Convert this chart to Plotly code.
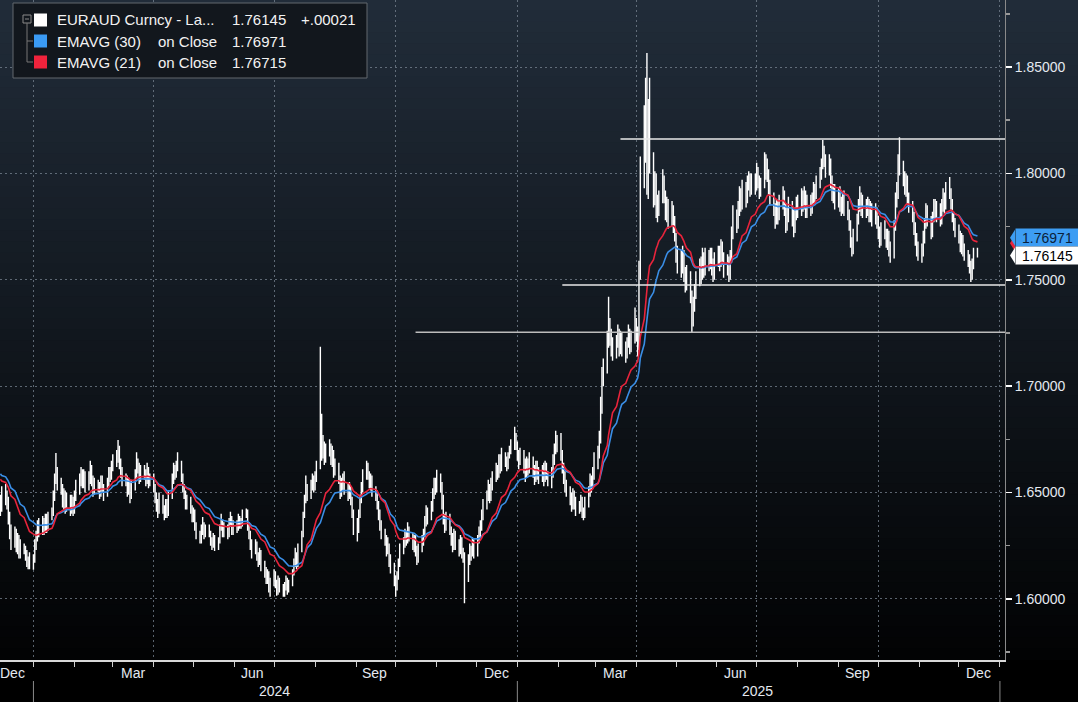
import plotly.graph_objects as go
import pandas as pd

# ---------------- data ----------------
START_DATE = "2023-12-07"
OPEN0 = 1.6420

close = [
    1.6440, 1.6470,
    1.6480, 1.6450, 1.6380, 1.6320, 1.6270,
    1.6300, 1.6250, 1.6280, 1.6220, 1.6240,
    1.6230, 1.6200, 1.6170, 1.6150, 1.6190,
    1.6180, 1.6250, 1.6290, 1.6330, 1.6320,
    1.6360, 1.6330, 1.6380, 1.6340, 1.6390,
    1.6400, 1.6480, 1.6560, 1.6600, 1.6540,
    1.6520, 1.6460, 1.6490, 1.6430, 1.6470,
    1.6420, 1.6460, 1.6410, 1.6480, 1.6510,
    1.6560, 1.6600, 1.6540, 1.6580, 1.6530,
    1.6570, 1.6620, 1.6560, 1.6510, 1.6540,
    1.6530, 1.6500, 1.6560, 1.6520, 1.6490,
    1.6550, 1.6600, 1.6580, 1.6620, 1.6650,
    1.6660, 1.6700, 1.6640, 1.6600, 1.6560,
    1.6560, 1.6510, 1.6540, 1.6480, 1.6530,
    1.6590, 1.6640, 1.6620, 1.6570, 1.6600,
    1.6590, 1.6560, 1.6610, 1.6540, 1.6570,
    1.6520, 1.6480, 1.6440, 1.6420, 1.6470,
    1.6420, 1.6390, 1.6450, 1.6400, 1.6480,
    1.6560, 1.6610, 1.6580, 1.6620, 1.6640,
    1.6570, 1.6520, 1.6490, 1.6440, 1.6470,
    1.6420, 1.6380, 1.6400, 1.6340, 1.6300,
    1.6280, 1.6320, 1.6350, 1.6300, 1.6330,
    1.6310, 1.6270, 1.6250, 1.6290, 1.6240,
    1.6270, 1.6330, 1.6360, 1.6310, 1.6340,
    1.6300, 1.6360, 1.6380, 1.6320, 1.6350,
    1.6330, 1.6380, 1.6350, 1.6360, 1.6400,
    1.6410, 1.6340, 1.6300, 1.6260, 1.6230,
    1.6250, 1.6200, 1.6180, 1.6220, 1.6160,
    1.6130, 1.6090, 1.6120, 1.6060, 1.6080,
    1.6110, 1.6070, 1.6030, 1.6090, 1.6050,
    1.6020, 1.6060, 1.6090, 1.6040, 1.6070,
    1.6120, 1.6170, 1.6200, 1.6160, 1.6230,
    1.6300, 1.6390, 1.6460, 1.6520, 1.6480,
    1.6530, 1.6560, 1.6520, 1.6570, 1.6620,
    1.6750, 1.6680, 1.6720, 1.6660, 1.6700,
    1.6710, 1.6650, 1.6690, 1.6600, 1.6630,
    1.6560, 1.6500, 1.6540, 1.6580, 1.6520,
    1.6490, 1.6520, 1.6460, 1.6400, 1.6360,
    1.6330, 1.6400, 1.6470, 1.6520, 1.6580,
    1.6620, 1.6580, 1.6540, 1.6560, 1.6500,
    1.6490, 1.6440, 1.6400, 1.6350, 1.6310,
    1.6280, 1.6230, 1.6250, 1.6180, 1.6150,
    1.6090, 1.6050, 1.6100, 1.6170, 1.6230,
    1.6260, 1.6300, 1.6280, 1.6330, 1.6290,
    1.6250, 1.6280, 1.6220, 1.6190, 1.6240,
    1.6270, 1.6310, 1.6360, 1.6410, 1.6380,
    1.6430, 1.6490, 1.6540, 1.6510, 1.6560,
    1.6520, 1.6450, 1.6380, 1.6340, 1.6380,
    1.6320, 1.6280, 1.6250, 1.6300, 1.6260,
    1.6230, 1.6270, 1.6210, 1.6200, 1.6090,
    1.6180, 1.6230, 1.6210, 1.6260, 1.6220,
    1.6280, 1.6310, 1.6340, 1.6390, 1.6440,
    1.6480, 1.6520, 1.6470, 1.6540, 1.6570,
    1.6610, 1.6590, 1.6640, 1.6620, 1.6670,
    1.6650, 1.6620, 1.6680, 1.6700, 1.6720,
    1.6760, 1.6720, 1.6680, 1.6650, 1.6690,
    1.6620, 1.6580, 1.6640, 1.6610, 1.6650,
    1.6600, 1.6560, 1.6620, 1.6590, 1.6570,
    1.6600, 1.6560, 1.6620, 1.6580, 1.6540,
    1.6590, 1.6650, 1.6700, 1.6740, 1.6720,
    1.6680, 1.6620, 1.6570, 1.6530, 1.6510,
    1.6470, 1.6440, 1.6490, 1.6450, 1.6420,
    1.6430, 1.6460, 1.6410, 1.6390, 1.6450,
    1.6500, 1.6560, 1.6530, 1.6590, 1.6640,
    1.6680, 1.6750, 1.6900, 1.7030, 1.7080,
    1.7200, 1.7280, 1.7230, 1.7180, 1.7160,
    1.7200, 1.7250, 1.7170, 1.7230, 1.7180,
    1.7150, 1.7200, 1.7250, 1.7180, 1.7220,
    1.7270, 1.7250, 1.7180, 1.7550, 1.8010,
    1.8150, 1.8280, 1.7950, 1.8120, 1.8070,
    1.7900, 1.7940, 1.7850, 1.7820, 1.7880,
    1.7960, 1.7890, 1.7810, 1.7850, 1.7780,
    1.7820, 1.7760, 1.7710, 1.7610, 1.7580,
    1.7550, 1.7600, 1.7520, 1.7480, 1.7520,
    1.7430, 1.7300, 1.7380, 1.7440, 1.7500,
    1.7560, 1.7520, 1.7600, 1.7550, 1.7610,
    1.7580, 1.7620, 1.7560, 1.7530, 1.7590,
    1.7620, 1.7580, 1.7640, 1.7600, 1.7550,
    1.7580, 1.7530, 1.7600, 1.7720, 1.7800,
    1.7760, 1.7840, 1.7900, 1.7860, 1.7930,
    1.7880, 1.7950, 1.7980, 1.7920, 1.7970,
    1.7940, 1.8010, 1.7960, 1.7910, 1.7950,
    1.7990, 1.8060, 1.8000, 1.7940, 1.7880,
    1.7830, 1.7780, 1.7850, 1.7800, 1.7860,
    1.7900, 1.7830, 1.7760, 1.7800, 1.7850,
    1.7790, 1.7740, 1.7810, 1.7860, 1.7830,
    1.7890, 1.7850, 1.7900, 1.7820, 1.7870,
    1.7840, 1.7880, 1.7930, 1.7900, 1.7960,
    1.8000, 1.8040, 1.8100, 1.8060, 1.8020,
    1.8050, 1.7960, 1.7900, 1.7920, 1.7870,
    1.7900, 1.7860, 1.7830, 1.7880, 1.7840,
    1.7810, 1.7760, 1.7680, 1.7640, 1.7700,
    1.7780, 1.7850, 1.7890, 1.7830, 1.7870,
    1.7820, 1.7860, 1.7800, 1.7840, 1.7790,
    1.7830, 1.7770, 1.7720, 1.7680, 1.7740,
    1.7720, 1.7680, 1.7700, 1.7650, 1.7620,
    1.7750, 1.7880, 1.7920, 1.8020, 1.8050,
    1.7980, 1.7930, 1.7960, 1.7880, 1.7850,
    1.7800, 1.7740, 1.7690, 1.7650, 1.7620,
    1.7630, 1.7700, 1.7760, 1.7820, 1.7780,
    1.7730, 1.7790, 1.7850, 1.7800, 1.7840,
    1.7780, 1.7850, 1.7890, 1.7850, 1.7920,
    1.7900, 1.7860, 1.7800, 1.7760, 1.7730,
    1.7700, 1.7660, 1.7680, 1.7640, 1.7620,
    1.7590, 1.7560, 1.7520, 1.7580, 1.7612,
    1.76145,
]

high = [
    1.6490, 1.6530,
    1.6540, 1.6510, 1.6480, 1.6410, 1.6350,
    1.6340, 1.6330, 1.6310, 1.6300, 1.6280,
    1.6260, 1.6250, 1.6230, 1.6200, 1.6220,
    1.6210, 1.6280, 1.6320, 1.6370, 1.6380,
    1.6390, 1.6380, 1.6400, 1.6400, 1.6410,
    1.6430, 1.6510, 1.6590, 1.6686, 1.6620,
    1.6570, 1.6540, 1.6520, 1.6510, 1.6500,
    1.6490, 1.6490, 1.6480, 1.6510, 1.6560,
    1.6590, 1.6620, 1.6610, 1.6610, 1.6600,
    1.6600, 1.6650, 1.6630, 1.6580, 1.6570,
    1.6560, 1.6550, 1.6580, 1.6580, 1.6540,
    1.6570, 1.6620, 1.6620, 1.6650, 1.6680,
    1.6700, 1.6747, 1.6720, 1.6660, 1.6620,
    1.6590, 1.6580, 1.6570, 1.6560, 1.6560,
    1.6610, 1.6690, 1.6660, 1.6640, 1.6630,
    1.6630, 1.6610, 1.6640, 1.6620, 1.6590,
    1.6590, 1.6540, 1.6500, 1.6470, 1.6500,
    1.6490, 1.6440, 1.6470, 1.6470, 1.6510,
    1.6590, 1.6640, 1.6630, 1.6650, 1.6690,
    1.6650, 1.6590, 1.6540, 1.6510, 1.6490,
    1.6480, 1.6440, 1.6430, 1.6420, 1.6360,
    1.6320, 1.6350, 1.6385, 1.6360, 1.6350,
    1.6350, 1.6320, 1.6290, 1.6310, 1.6300,
    1.6290, 1.6350, 1.6400, 1.6370, 1.6360,
    1.6350, 1.6380, 1.6410, 1.6390, 1.6370,
    1.6370, 1.6400, 1.6390, 1.6380, 1.6420,
    1.6425, 1.6420, 1.6360, 1.6320, 1.6280,
    1.6280, 1.6270, 1.6220, 1.6240, 1.6230,
    1.6180, 1.6150, 1.6140, 1.6130, 1.6100,
    1.6140, 1.6130, 1.6090, 1.6110, 1.6100,
    1.6070, 1.6080, 1.6110, 1.6100, 1.6090,
    1.6140, 1.6190, 1.6240, 1.6220, 1.6260,
    1.6320, 1.6410, 1.6490, 1.6580, 1.6540,
    1.6560, 1.6590, 1.6580, 1.6600, 1.6650,
    1.7185, 1.6870, 1.6770, 1.6740, 1.6730,
    1.6750, 1.6730, 1.6720, 1.6700, 1.6660,
    1.6640, 1.6580, 1.6570, 1.6590, 1.6600,
    1.6540, 1.6550, 1.6530, 1.6480, 1.6420,
    1.6380, 1.6420, 1.6490, 1.6550, 1.6610,
    1.6650, 1.6640, 1.6600, 1.6590, 1.6580,
    1.6530, 1.6510, 1.6460, 1.6420, 1.6370,
    1.6330, 1.6300, 1.6290, 1.6260, 1.6210,
    1.6170, 1.6110, 1.6130, 1.6190, 1.6260,
    1.6290, 1.6330, 1.6320, 1.6360, 1.6340,
    1.6310, 1.6300, 1.6300, 1.6250, 1.6260,
    1.6300, 1.6330, 1.6390, 1.6440, 1.6430,
    1.6460, 1.6520, 1.6570, 1.6570, 1.6607,
    1.6590, 1.6550, 1.6490, 1.6400, 1.6410,
    1.6400, 1.6340, 1.6310, 1.6330, 1.6320,
    1.6280, 1.6300, 1.6290, 1.6240, 1.6220,
    1.6210, 1.6260, 1.6250, 1.6290, 1.6280,
    1.6300, 1.6340, 1.6370, 1.6420, 1.6470,
    1.6510, 1.6560, 1.6540, 1.6570, 1.6600,
    1.6640, 1.6630, 1.6680, 1.6680, 1.6710,
    1.6690, 1.6670, 1.6690, 1.6720, 1.6750,
    1.6809, 1.6780, 1.6740, 1.6700, 1.6710,
    1.6700, 1.6660, 1.6670, 1.6660, 1.6690,
    1.6670, 1.6630, 1.6650, 1.6650, 1.6620,
    1.6630, 1.6640, 1.6650, 1.6640, 1.6600,
    1.6620, 1.6680, 1.6730, 1.6790, 1.6770,
    1.6780, 1.6700, 1.6640, 1.6600, 1.6560,
    1.6530, 1.6500, 1.6520, 1.6510, 1.6480,
    1.6460, 1.6490, 1.6480, 1.6430, 1.6480,
    1.6530, 1.6590, 1.6580, 1.6620, 1.6690,
    1.6720, 1.6790, 1.6950, 1.7090, 1.7130,
    1.7260, 1.7420, 1.7320, 1.7270, 1.7230,
    1.7240, 1.7290, 1.7270, 1.7260, 1.7250,
    1.7210, 1.7230, 1.7290, 1.7270, 1.7260,
    1.7370, 1.7320, 1.7280, 1.7590, 1.8080,
    1.8320, 1.8450, 1.8566, 1.8350, 1.8450,
    1.8100, 1.8010, 1.8000, 1.7900, 1.7920,
    1.8020, 1.7990, 1.7920, 1.7890, 1.7880,
    1.7870, 1.7850, 1.7800, 1.7720, 1.7660,
    1.7640, 1.7660, 1.7640, 1.7560, 1.7570,
    1.7540, 1.7450, 1.7420, 1.7480, 1.7540,
    1.7600, 1.7610, 1.7650, 1.7630, 1.7650,
    1.7640, 1.7650, 1.7650, 1.7600, 1.7630,
    1.7660, 1.7660, 1.7690, 1.7680, 1.7630,
    1.7620, 1.7610, 1.7640, 1.7750, 1.7850,
    1.7830, 1.7870, 1.7940, 1.7930, 1.7970,
    1.7960, 1.7990, 1.8010, 1.8000, 1.8000,
    1.8000, 1.8050, 1.8030, 1.7990, 1.7980,
    1.8100, 1.8090, 1.8070, 1.8020, 1.7970,
    1.7910, 1.7860, 1.7880, 1.7870, 1.7900,
    1.7940, 1.7920, 1.7860, 1.7840, 1.7890,
    1.7870, 1.7830, 1.7840, 1.7890, 1.7900,
    1.7930, 1.7920, 1.7940, 1.7920, 1.7900,
    1.7900, 1.7910, 1.7960, 1.7950, 1.7990,
    1.8030, 1.8070, 1.8157, 1.8130, 1.8090,
    1.8090, 1.8070, 1.7990, 1.7950, 1.7950,
    1.7930, 1.7940, 1.7890, 1.7910, 1.7920,
    1.7870, 1.7830, 1.7780, 1.7700, 1.7740,
    1.7810, 1.7880, 1.7940, 1.7910, 1.7900,
    1.7880, 1.7890, 1.7880, 1.7870, 1.7860,
    1.7860, 1.7840, 1.7800, 1.7750, 1.7770,
    1.7780, 1.7740, 1.7740, 1.7730, 1.7680,
    1.7780, 1.7910, 1.7960, 1.8090, 1.8170,
    1.8060, 1.8010, 1.8000, 1.7990, 1.7910,
    1.7870, 1.7820, 1.7770, 1.7720, 1.7680,
    1.7670, 1.7730, 1.7790, 1.7860, 1.7850,
    1.7800, 1.7820, 1.7880, 1.7880, 1.7870,
    1.7860, 1.7880, 1.7930, 1.7910, 1.7960,
    1.7983, 1.7930, 1.7880, 1.7820, 1.7790,
    1.7760, 1.7730, 1.7720, 1.7710, 1.7670,
    1.7640, 1.7620, 1.7590, 1.7600, 1.7650,
    1.7650,
]

low = [
    1.6390, 1.6410,
    1.6440, 1.6420, 1.6350, 1.6280, 1.6230,
    1.6240, 1.6220, 1.6210, 1.6190, 1.6190,
    1.6210, 1.6180, 1.6150, 1.6140, 1.6140,
    1.6137, 1.6170, 1.6230, 1.6270, 1.6290,
    1.6300, 1.6300, 1.6310, 1.6310, 1.6320,
    1.6370, 1.6390, 1.6460, 1.6540, 1.6510,
    1.6490, 1.6430, 1.6420, 1.6400, 1.6410,
    1.6390, 1.6400, 1.6390, 1.6400, 1.6460,
    1.6490, 1.6530, 1.6520, 1.6520, 1.6500,
    1.6510, 1.6540, 1.6530, 1.6480, 1.6490,
    1.6500, 1.6470, 1.6480, 1.6500, 1.6460,
    1.6480, 1.6530, 1.6550, 1.6560, 1.6600,
    1.6620, 1.6640, 1.6610, 1.6570, 1.6530,
    1.6530, 1.6480, 1.6490, 1.6450, 1.6470,
    1.6510, 1.6570, 1.6590, 1.6540, 1.6550,
    1.6560, 1.6530, 1.6540, 1.6520, 1.6530,
    1.6500, 1.6450, 1.6410, 1.6380, 1.6400,
    1.6400, 1.6370, 1.6380, 1.6380, 1.6390,
    1.6470, 1.6540, 1.6560, 1.6570, 1.6600,
    1.6550, 1.6500, 1.6470, 1.6420, 1.6420,
    1.6400, 1.6360, 1.6360, 1.6320, 1.6280,
    1.6260, 1.6260, 1.6300, 1.6280, 1.6290,
    1.6290, 1.6250, 1.6230, 1.6240, 1.6225,
    1.6230, 1.6260, 1.6320, 1.6290, 1.6290,
    1.6280, 1.6290, 1.6340, 1.6300, 1.6300,
    1.6310, 1.6320, 1.6330, 1.6330, 1.6340,
    1.6380, 1.6320, 1.6280, 1.6230, 1.6190,
    1.6210, 1.6180, 1.6150, 1.6160, 1.6130,
    1.6100, 1.6070, 1.6070, 1.6030, 1.6010,
    1.6060, 1.6050, 1.6015, 1.6020, 1.6030,
    1.6010, 1.6010, 1.6040, 1.6020, 1.6030,
    1.6060, 1.6110, 1.6150, 1.6140, 1.6150,
    1.6220, 1.6290, 1.6380, 1.6450, 1.6460,
    1.6470, 1.6510, 1.6500, 1.6510, 1.6550,
    1.6610, 1.6650, 1.6660, 1.6630, 1.6640,
    1.6670, 1.6630, 1.6620, 1.6570, 1.6580,
    1.6540, 1.6470, 1.6480, 1.6510, 1.6490,
    1.6460, 1.6470, 1.6440, 1.6380, 1.6300,
    1.6270, 1.6310, 1.6380, 1.6450, 1.6500,
    1.6560, 1.6560, 1.6520, 1.6510, 1.6480,
    1.6460, 1.6420, 1.6370, 1.6320, 1.6280,
    1.6250, 1.6200, 1.6210, 1.6150, 1.6120,
    1.6060, 1.6010, 1.6040, 1.6090, 1.6150,
    1.6210, 1.6240, 1.6250, 1.6260, 1.6270,
    1.6230, 1.6220, 1.6200, 1.6160, 1.6170,
    1.6220, 1.6250, 1.6290, 1.6340, 1.6350,
    1.6370, 1.6410, 1.6470, 1.6490, 1.6500,
    1.6500, 1.6420, 1.6350, 1.6310, 1.6320,
    1.6300, 1.6250, 1.6220, 1.6230, 1.6230,
    1.6200, 1.6210, 1.6190, 1.6170, 1.5980,
    1.6080, 1.6160, 1.6180, 1.6200, 1.6190,
    1.6200, 1.6260, 1.6290, 1.6320, 1.6370,
    1.6420, 1.6460, 1.6450, 1.6460, 1.6510,
    1.6550, 1.6560, 1.6570, 1.6590, 1.6600,
    1.6620, 1.6600, 1.6610, 1.6660, 1.6680,
    1.6700, 1.6700, 1.6650, 1.6610, 1.6630,
    1.6590, 1.6550, 1.6570, 1.6580, 1.6590,
    1.6570, 1.6535, 1.6550, 1.6560, 1.6540,
    1.6550, 1.6530, 1.6550, 1.6560, 1.6530,
    1.6520, 1.6570, 1.6630, 1.6680, 1.6690,
    1.6650, 1.6590, 1.6540, 1.6500, 1.6480,
    1.6440, 1.6410, 1.6420, 1.6420, 1.6390,
    1.6400, 1.6410, 1.6380, 1.6370, 1.6380,
    1.6430, 1.6480, 1.6500, 1.6520, 1.6560,
    1.6610, 1.6660, 1.6730, 1.6870, 1.7000,
    1.7060, 1.7180, 1.7190, 1.7140, 1.7120,
    1.7130, 1.7180, 1.7140, 1.7150, 1.7140,
    1.7110, 1.7130, 1.7180, 1.7150, 1.7160,
    1.7200, 1.7210, 1.7140, 1.7170, 1.7500,
    1.7930, 1.8050, 1.7900, 1.7880, 1.8000,
    1.7840, 1.7850, 1.7790, 1.7770, 1.7800,
    1.7860, 1.7860, 1.7780, 1.7770, 1.7740,
    1.7750, 1.7720, 1.7680, 1.7580, 1.7530,
    1.7510, 1.7530, 1.7490, 1.7440, 1.7450,
    1.7390, 1.7250, 1.7280, 1.7350, 1.7410,
    1.7470, 1.7480, 1.7500, 1.7510, 1.7520,
    1.7540, 1.7550, 1.7520, 1.7490, 1.7500,
    1.7560, 1.7540, 1.7560, 1.7570, 1.7510,
    1.7520, 1.7490, 1.7500, 1.7580, 1.7690,
    1.7720, 1.7740, 1.7800, 1.7820, 1.7830,
    1.7840, 1.7860, 1.7920, 1.7890, 1.7900,
    1.7900, 1.7920, 1.7930, 1.7880, 1.7890,
    1.7930, 1.7970, 1.7960, 1.7900, 1.7850,
    1.7800, 1.7740, 1.7760, 1.7760, 1.7780,
    1.7830, 1.7800, 1.7720, 1.7730, 1.7770,
    1.7750, 1.7700, 1.7720, 1.7780, 1.7790,
    1.7800, 1.7820, 1.7830, 1.7790, 1.7790,
    1.7800, 1.7810, 1.7850, 1.7860, 1.7880,
    1.7930, 1.7970, 1.8020, 1.8030, 1.7980,
    1.7990, 1.7930, 1.7870, 1.7860, 1.7830,
    1.7840, 1.7820, 1.7800, 1.7810, 1.7800,
    1.7780, 1.7730, 1.7650, 1.7610, 1.7620,
    1.7680, 1.7760, 1.7820, 1.7800, 1.7790,
    1.7790, 1.7800, 1.7770, 1.7770, 1.7750,
    1.7760, 1.7740, 1.7690, 1.7650, 1.7660,
    1.7690, 1.7650, 1.7640, 1.7610, 1.7580,
    1.7600, 1.7730, 1.7840, 1.7880, 1.7990,
    1.7940, 1.7900, 1.7890, 1.7850, 1.7815,
    1.7770, 1.7710, 1.7660, 1.7610, 1.7590,
    1.7580, 1.7610, 1.7670, 1.7740, 1.7750,
    1.7690, 1.7700, 1.7770, 1.7780, 1.7770,
    1.7750, 1.7760, 1.7820, 1.7810, 1.7830,
    1.7880, 1.7830, 1.7770, 1.7730, 1.7700,
    1.7670, 1.7630, 1.7620, 1.7610, 1.7590,
    1.7560, 1.7530, 1.7490, 1.7500, 1.7550,
    1.7605,
]

# EMA levels at the first visible bar
EMA21_START = 1.6575
EMA30_START = 1.6598

# drawn horizontal levels: (price, start date)
h_levels = [1.8162, 1.7475, 1.7253]
h_starts = ["2025-03-20", "2025-02-04", "2024-10-16"]
h_colors = ["#e8e8e8", "#e8e8e8", "#bdbdbd"]

# axis / labels
y_ticks = [1.60, 1.65, 1.70, 1.75, 1.80, 1.85]
month_label_dates = ["2023-12-16", "2024-03-16", "2024-06-15", "2024-09-15", "2024-12-16",
                     "2025-03-16", "2025-06-15", "2025-09-15", "2025-12-16"]
month_labels = ["Dec", "Mar", "Jun", "Sep", "Dec", "Mar", "Jun", "Sep", "Dec"]
year_label_dates = ["2024-07-01", "2025-07-02"]
year_labels = ["2024", "2025"]
year_bounds = ["2024-01-01", "2025-01-01", "2026-01-01"]
quarter_starts = ["2024-01-01", "2024-04-01", "2024-07-01", "2024-10-01", "2025-01-01",
                  "2025-04-01", "2025-07-01", "2025-10-01", "2026-01-01"]
X_RANGE = ["2023-12-06 17:00", "2026-01-04 20:00"]
Y_RANGE = [1.5713, 1.8815]

LAST_PX = "1.76145"
LAST_CHG = "+.00021"
EMA30_LAST = "1.76971"
EMA21_LAST = "1.76715"

# ---------------- derived ----------------
dates = pd.bdate_range(START_DATE, periods=len(close))
opens = [OPEN0] + close[:-1]


def ema(values, n, seed):
    a = 2.0 / (n + 1)
    e = seed
    out = []
    for v in values:
        e = e + a * (v - e)
        out.append(e)
    return out


ema21 = ema(close, 21, EMA21_START)
ema30 = ema(close, 30, EMA30_START)

W, H = 1078, 702
ML, MR, MT, MB = 0, 73, 0, 42
PW, PH = W - ML - MR, H - MT - MB
UPP = (Y_RANGE[1] - Y_RANGE[0]) / PH  # price units per pixel


def px(x):
    return x / PW


def py(y):
    return 1 - y / PH


fig = go.Figure()

fig.add_trace(go.Ohlc(
    x=dates, open=opens, high=high, low=low, close=close,
    increasing=dict(line=dict(color="#ffffff", width=1.4)),
    decreasing=dict(line=dict(color="#ffffff", width=1.4)),
    tickwidth=0.3, hoverinfo="skip", showlegend=False,
))
fig.add_trace(go.Scatter(x=dates, y=ema30, mode="lines",
                         line=dict(color="#3a8ee6", width=1.6),
                         hoverinfo="skip", showlegend=False))
fig.add_trace(go.Scatter(x=dates, y=ema21, mode="lines",
                         line=dict(color="#e8243c", width=1.6),
                         hoverinfo="skip", showlegend=False))

shapes = []
# background gradient (dark slate at top to black at bottom)
N = 60
top = (33, 44, 57)
bot = (2, 3, 4)
for i in range(N):
    t = i / (N - 1)
    c = tuple(int(round(top[k] + (bot[k] - top[k]) * t)) for k in range(3))
    shapes.append(dict(type="rect", xref="paper", yref="paper",
                       x0=0, x1=W / PW + 0.01, y0=1 - (i + 1) / N, y1=1 - i / N + 0.001,
                       fillcolor="rgb(%d,%d,%d)" % c, line=dict(width=0), layer="below"))

for lvl, st, col in zip(h_levels, h_starts, h_colors):
    shapes.append(dict(type="line", xref="x", yref="y", x0=st, x1=X_RANGE[1],
                       y0=lvl, y1=lvl, line=dict(color=col, width=1.5), layer="above"))

for b in year_bounds:
    shapes.append(dict(type="line", xref="x", yref="paper", x0=b, x1=b,
                       y0=py(681), y1=py(702), line=dict(color="#8a8a8a", width=1)))

# legend box
shapes.append(dict(type="rect", xref="paper", yref="paper",
                   x0=px(13), x1=px(367), y0=py(78), y1=py(3),
                   fillcolor="#12171d", line=dict(color="#62686f", width=1), layer="above"))
# tree lines
shapes.append(dict(type="rect", xref="paper", yref="paper", x0=px(23), x1=px(31), y0=py(23), y1=py(15),
                   line=dict(color="#8a8a8a", width=1), fillcolor="#12171d", layer="above"))
shapes.append(dict(type="line", xref="paper", yref="paper", x0=px(25), x1=px(29), y0=py(19), y1=py(19),
                   line=dict(color="#8a8a8a", width=1), layer="above"))
shapes.append(dict(type="line", xref="paper", yref="paper", x0=px(27), x1=px(27), y0=py(23), y1=py(62),
                   line=dict(color="#777777", width=1), layer="above"))
for yy in (41, 62):
    shapes.append(dict(type="line", xref="paper", yref="paper", x0=px(27), x1=px(33), y0=py(yy), y1=py(yy),
                       line=dict(color="#777777", width=1), layer="above"))
# swatches
for yy, col in ((20, "#ffffff"), (41, "#3a9bf5"), (62, "#f0233c")):
    shapes.append(dict(type="rect", xref="paper", yref="paper", x0=px(34), x1=px(47),
                       y0=py(yy + 6.5), y1=py(yy - 6.5), fillcolor=col, line=dict(width=0), layer="above"))

# pointer tips of the last-value labels (red one mostly hidden behind the others)
for val, col in ((float(EMA21_LAST), "#e8243c"), (float(EMA30_LAST), "#3d9df3"), (float(LAST_PX), "#ffffff")):
    x0, x1 = 1 + px(5), 1 + px(10)
    h8 = 8 * UPP
    shapes.append(dict(type="path", xref="paper", yref="y",
                       path="M %f %f L %f %f L %f %f Z" % (x0, val, x1, val + h8, x1, val - h8),
                       fillcolor=col, line=dict(width=0), layer="above"))

annotations = []
FONT = "Liberation Sans, Arial, sans-serif"
leg_rows = [
    (20, "EURAUD Curncy - La...", None, LAST_PX, LAST_CHG),
    (41, "EMAVG (30)", "on Close", EMA30_LAST, None),
    (62, "EMAVG (21)", "on Close", EMA21_LAST, None),
]
for yy, lab, mid, val, chg in leg_rows:
    for xx, txt in ((55, lab), (156, mid), (230, val), (299, chg)):
        if txt is None:
            continue
        annotations.append(dict(xref="paper", yref="paper", x=px(xx), y=py(yy), text=txt,
                                showarrow=False, xanchor="left", yanchor="middle",
                                font=dict(family=FONT, size=15, color="#f2f2f2")))

for d, t in zip(month_label_dates, month_labels):
    annotations.append(dict(xref="x", yref="paper", x=d, y=py(673), text=t, showarrow=False,
                            xanchor="center", yanchor="middle",
                            font=dict(family=FONT, size=14, color="#e4e9f0")))
for d, t in zip(year_label_dates, year_labels):
    annotations.append(dict(xref="x", yref="paper", x=d, y=py(691), text=t, showarrow=False,
                            xanchor="center", yanchor="middle",
                            font=dict(family=FONT, size=14, color="#e4e9f0")))

# last-value labels on the price axis (EMA21 label is hidden behind these in the reference)
for val, txt, bg, fg in ((float(EMA30_LAST), EMA30_LAST, "#3d9df3", "#0b1f3a"),
                         (float(LAST_PX), LAST_PX, "#ffffff", "#000000")):
    annotations.append(dict(xref="paper", yref="y", x=1, xshift=10, y=val, text=txt,
                            showarrow=False, xanchor="left", yanchor="middle",
                            bgcolor=bg, borderpad=0, width=63, height=17, align="center",
                            font=dict(family=FONT, size=14, color=fg)))

grid = dict(color="rgba(120,132,146,0.75)")
fig.update_layout(
    width=W, height=H, margin=dict(l=ML, r=MR, t=MT, b=MB, pad=0),
    paper_bgcolor="#000000", plot_bgcolor="rgba(0,0,0,0)",
    template="none", showlegend=False,
    shapes=shapes, annotations=annotations,
    xaxis=dict(type="date", range=X_RANGE, rangeslider=dict(visible=False),
               tickvals=quarter_starts, showticklabels=False,
               ticks="outside", ticklen=5, tickcolor="#d0d0d0", tickwidth=1,
               showgrid=True, gridcolor=grid["color"], gridwidth=1, griddash="2px,3px",
               minor=dict(dtick="M1", tick0="2024-01-01", ticks="outside", ticklen=5,
                          tickcolor="#d0d0d0", showgrid=False),
               showline=True, linecolor="#d8d8d8", linewidth=1.5, zeroline=False,
               automargin=False, fixedrange=True),
    yaxis=dict(side="right", range=Y_RANGE, tickvals=y_ticks,
               ticktext=["%.5f" % v for v in y_ticks],
               ticks="outside", ticklen=6, tickcolor="#ffffff", tickwidth=1.5,
               tickfont=dict(family=FONT, size=14, color="#e4e9f0"),
               showgrid=True, gridcolor=grid["color"], gridwidth=1, griddash="2px,3px",
               minor=dict(dtick=0.025, tick0=1.575, ticks="outside", ticklen=4,
                          tickcolor="#9a9a9a", showgrid=False),
               showline=True, linecolor="#8a8a8a", linewidth=1, zeroline=False,
               automargin=False, fixedrange=True),
)

fig.write_html("out.html", config=dict(displayModeBar=False, staticPlot=True),
               post_script="document.body.style.margin='0';document.body.style.overflow='hidden';")
